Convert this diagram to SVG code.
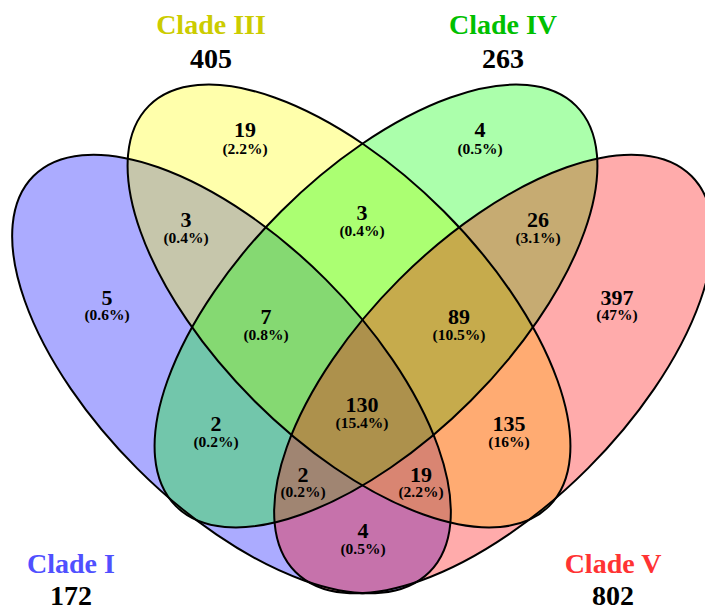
<svg xmlns="http://www.w3.org/2000/svg" width="705" height="608" viewBox="0 0 705 608">
<style>
.f{stroke:none}
.fa{fill:#0000ff;fill-opacity:0.33}
.fb{fill:#ffff00;fill-opacity:0.33}
.fc{fill:#00ff00;fill-opacity:0.33}
.fd{fill:#ff0000;fill-opacity:0.33}
.ol{fill:none;stroke:#000;stroke-width:2}
text{font-family:"Liberation Serif","Times New Roman",serif;font-weight:bold;text-anchor:middle;fill:#000}
.n{font-size:22px}
.p{font-size:15.5px}
.t{font-size:28px}
</style>
<rect width="705" height="608" fill="#fff"/>
<g id="clade-I">
<ellipse class="f fa" rx="280" ry="133.5" transform="translate(231.5 374) rotate(45)"/>
<text class="t" x="71" y="573" style="fill:#5050ff">Clade I</text>
<text class="t" x="71" y="605">172</text>
</g>
<g id="clade-III">
<ellipse class="f fb" rx="283" ry="134" transform="translate(349 306) rotate(45)"/>
<text class="t" x="211" y="34" style="fill:#cccc00">Clade III</text>
<text class="t" x="211" y="68">405</text>
</g>
<g id="clade-IV">
<ellipse class="f fc" rx="283" ry="134" transform="translate(376 306) rotate(-45)"/>
<text class="t" x="503" y="34" style="fill:#00c000">Clade IV</text>
<text class="t" x="503" y="68">263</text>
</g>
<g id="clade-V">
<ellipse class="f fd" rx="280" ry="133.5" transform="translate(493.5 374) rotate(-45)"/>
<text class="t" x="613" y="573" style="fill:#ff3333">Clade V</text>
<text class="t" x="613" y="605">802</text>
</g>
<g id="connectors">
<ellipse class="ol" rx="280" ry="133.5" transform="translate(231.5 374) rotate(45)"/>
<ellipse class="ol" rx="283" ry="134" transform="translate(349 306) rotate(45)"/>
<ellipse class="ol" rx="283" ry="134" transform="translate(376 306) rotate(-45)"/>
<ellipse class="ol" rx="280" ry="133.5" transform="translate(493.5 374) rotate(-45)"/>
</g>
<g id="region-labels">
<text class="n" x="245" y="137">19</text><text class="p" x="245" y="154">(2.2%)</text>
<text class="n" x="480" y="137">4</text><text class="p" x="480" y="154">(0.5%)</text>
<text class="n" x="186" y="227">3</text><text class="p" x="186" y="243">(0.4%)</text>
<text class="n" x="362" y="220">3</text><text class="p" x="362" y="236">(0.4%)</text>
<text class="n" x="538" y="227">26</text><text class="p" x="538" y="243">(3.1%)</text>
<text class="n" x="107" y="305">5</text><text class="p" x="107" y="320">(0.6%)</text>
<text class="n" x="266" y="324">7</text><text class="p" x="266" y="340">(0.8%)</text>
<text class="n" x="459" y="324">89</text><text class="p" x="459" y="340">(10.5%)</text>
<text class="n" x="617" y="305">397</text><text class="p" x="617" y="320">(47%)</text>
<text class="n" x="362" y="412">130</text><text class="p" x="362" y="428">(15.4%)</text>
<text class="n" x="216" y="431">2</text><text class="p" x="216" y="447">(0.2%)</text>
<text class="n" x="509" y="431">135</text><text class="p" x="509" y="447">(16%)</text>
<text class="n" x="303" y="482">2</text><text class="p" x="303" y="497">(0.2%)</text>
<text class="n" x="421" y="482">19</text><text class="p" x="421" y="497">(2.2%)</text>
<text class="n" x="363" y="538">4</text><text class="p" x="363" y="554">(0.5%)</text>
</g>
</svg>
